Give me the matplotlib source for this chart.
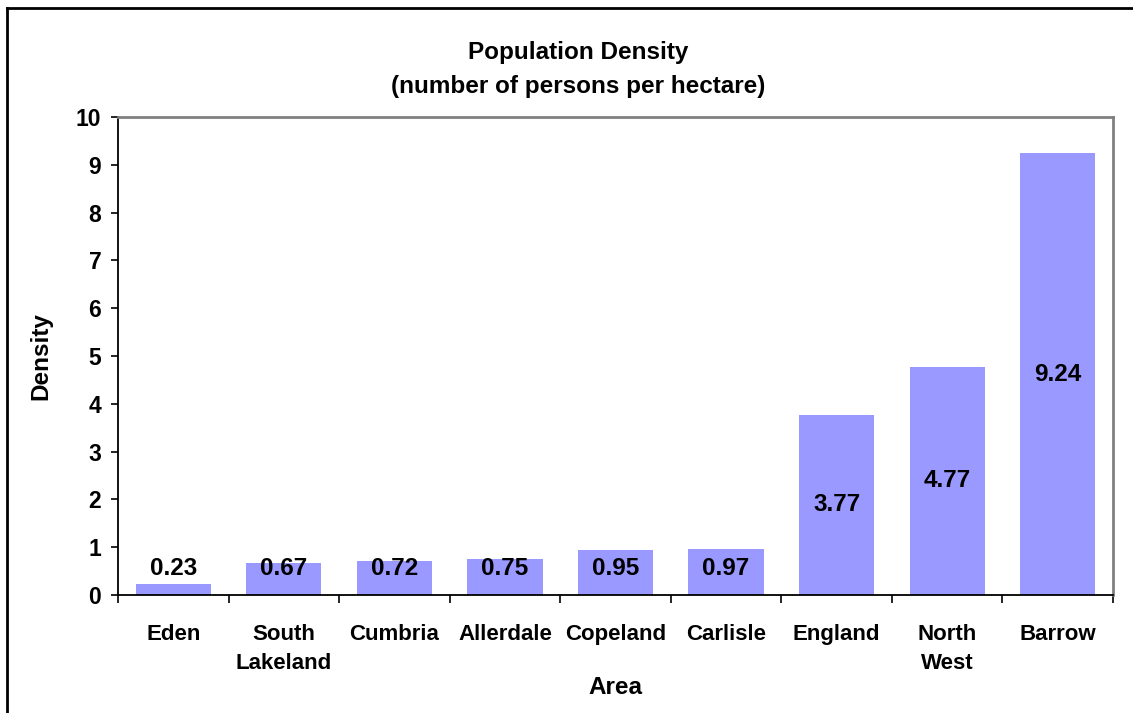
import matplotlib.pyplot as plt
import numpy as np
from matplotlib.lines import Line2D

plt.rcParams['font.family'] = ['Liberation Sans', 'DejaVu Sans']
plt.rcParams['font.weight'] = 'bold'

areas = ["Eden", "South\nLakeland", "Cumbria", "Allerdale", "Copeland",
         "Carlisle", "England", "North\nWest", "Barrow"]
density = [0.23, 0.67, 0.72, 0.75, 0.95, 0.97, 3.77, 4.77, 9.24]
yticks = [0, 1, 2, 3, 4, 5, 6, 7, 8, 9, 10]

W, H = 1133, 713
fig = plt.figure(figsize=(W / 100, H / 100), dpi=100)
ax = fig.add_axes([118/W, 1 - 595/H, (1113 - 118)/W, (595 - 117)/H])

x = np.arange(len(areas))
ax.bar(x, density, width=0.68, color='#9999FF', zorder=2)

# value labels centred in bars, kept clear of the axis for short bars
for xi, v in zip(x, density):
    ax.text(xi, max(v / 2, 0.55), f"{v:.2f}", ha='center', va='center',
            fontsize=17.5, fontweight='bold', zorder=3)

ax.set_xlim(-0.5, len(areas) - 0.5)
ax.set_ylim(0, 10)
ax.set_yticks(yticks)
ax.set_yticklabels([str(t) for t in yticks], fontsize=16.5, fontweight='bold')
ax.tick_params(axis='y', direction='out', length=5, width=1.2, pad=7)

ax.set_xticks(x)
ax.set_xticklabels(areas, fontsize=16, fontweight='bold', linespacing=1.5)
ax.tick_params(axis='x', which='major', length=0, pad=21)
ax.set_xticks(np.arange(len(areas) + 1) - 0.5, minor=True)
ax.tick_params(axis='x', which='minor', direction='out', length=6, width=1.2)

for side in ['left', 'bottom']:
    ax.spines[side].set_color('black')
    ax.spines[side].set_linewidth(1.3)
for side in ['top', 'right']:
    ax.spines[side].set_color('#808080')
    ax.spines[side].set_linewidth(2)

# titles and axis names
fig.text(578/W, 1 - 53/H, "Population Density", ha='center', va='center',
         fontsize=17.5, fontweight='bold')
fig.text(578/W, 1 - 87/H, "(number of persons per hectare)", ha='center', va='center',
         fontsize=17.5, fontweight='bold')
fig.text(615/W, 1 - 688/H, "Area", ha='center', va='center',
         fontsize=17.5, fontweight='bold')
fig.text(41/W, 1 - 356/H, "Density", ha='center', va='center', rotation=90,
         fontsize=17.5, fontweight='bold')

# chart frame
fx = 7 / W
fy = 1 - 8 / H
fig.add_artist(Line2D([fx, fx], [0, fy], color='black', lw=2, transform=fig.transFigure))
fig.add_artist(Line2D([fx, 1], [fy, fy], color='black', lw=2, transform=fig.transFigure))

fig.savefig("out.png", dpi=100)
